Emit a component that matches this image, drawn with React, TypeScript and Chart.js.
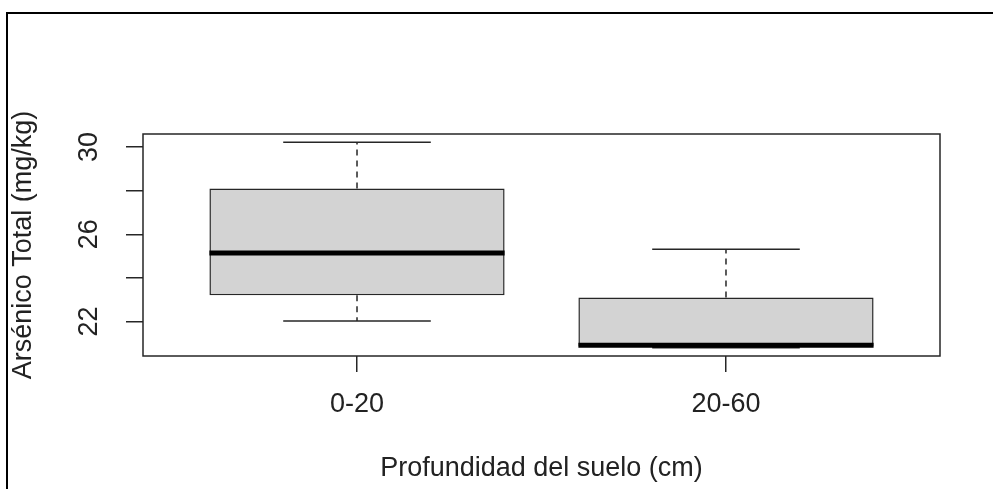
import React, { useEffect, useRef } from 'react';
import { Chart, registerables } from 'chart.js';

Chart.register(...registerables);

// ---- data ----
const categories = ['0-20', '20-60'];
const whiskerLow = [22.03, 20.8];
const quartile1 = [23.21, 20.86];
const medians = [25.14, 20.92];
const quartile3 = [28.1, 23.1];
const whiskerHigh = [30.22, 25.31];
const yTickValues = [22, 24, 26, 28, 30];
const yTickLabels = ['22', '', '26', '', '30'];
const xTitle = 'Profundidad del suelo (cm)';
const yTitle = 'Arsénico Total (mg/kg)';

const FONT = 'Liberation Sans, Arial, Helvetica, sans-serif';
const TEXT = '#222';
const LINE = '#262626';

// R-style axis limits (4% extension)
const dataLo = Math.min(...whiskerLow);
const dataHi = Math.max(...whiskerHigh);
const yExt = 0.04 * (dataHi - dataLo);
const xExt = 0.04 * categories.length;

const boxExtras = {
  id: 'boxExtras',
  beforeDraw(chart: any) {
    const ctx = chart.ctx;
    ctx.save();
    ctx.strokeStyle = '#000';
    ctx.lineWidth = 2;
    ctx.beginPath();
    ctx.moveTo(7, chart.height);
    ctx.lineTo(7, 13);
    ctx.lineTo(chart.width, 13);
    ctx.stroke();
    ctx.restore();
  },
  afterDatasetsDraw(chart: any) {
    const { ctx, scales } = chart;
    const x = scales.x;
    const y = scales.y;
    const seg = (x1: number, y1: number, x2: number, y2: number) => {
      ctx.beginPath();
      ctx.moveTo(x1, y1);
      ctx.lineTo(x2, y2);
      ctx.stroke();
    };
    ctx.save();
    categories.forEach((_, i) => {
      const c = i + 1;
      const xc = x.getPixelForValue(c);
      const xl = x.getPixelForValue(c - 0.4);
      const xr = x.getPixelForValue(c + 0.4);
      const sl = x.getPixelForValue(c - 0.2);
      const sr = x.getPixelForValue(c + 0.2);
      const yMin = y.getPixelForValue(whiskerLow[i]);
      const yQ1 = y.getPixelForValue(quartile1[i]);
      const yMed = y.getPixelForValue(medians[i]);
      const yQ3 = y.getPixelForValue(quartile3[i]);
      const yMax = y.getPixelForValue(whiskerHigh[i]);
      ctx.strokeStyle = LINE;
      ctx.lineWidth = 1.5;
      ctx.setLineDash([6, 5]);
      seg(xc, yQ3, xc, yMax);
      seg(xc, yQ1, xc, yMin);
      ctx.setLineDash([]);
      seg(sl, yMax, sr, yMax);
      seg(sl, yMin, sr, yMin);
      ctx.strokeStyle = '#000';
      ctx.lineWidth = 5;
      ctx.lineCap = 'butt';
      seg(xl, yMed, xr, yMed);
    });
    const a = chart.chartArea;
    ctx.strokeStyle = LINE;
    ctx.lineWidth = 1.5;
    ctx.strokeRect(a.left, a.top, a.right - a.left, a.bottom - a.top);
    ctx.restore();
  },
};

export default function App() {
  const ref = useRef<HTMLCanvasElement>(null);

  useEffect(() => {
    if (!ref.current) return;
    const chart = new Chart(ref.current, {
      type: 'bar',
      data: {
        datasets: [
          {
            data: categories.map((_, i) => ({ x: i + 1, y: [quartile1[i], quartile3[i]] })) as any,
            backgroundColor: '#d3d3d3',
            borderColor: LINE,
            borderWidth: 1.5,
            borderSkipped: false,
            barPercentage: 0.8,
            categoryPercentage: 1,
          },
        ],
      },
      options: {
        responsive: false,
        animation: false,
        layout: { padding: { top: 134, right: 53, left: 0, bottom: 0 } },
        plugins: {
          legend: { display: false },
          tooltip: { enabled: false },
          title: { display: false },
        },
        scales: {
          x: {
            type: 'linear',
            min: 0.5 - xExt,
            max: categories.length + 0.5 + xExt,
            offset: false,
            afterBuildTicks: (s: any) => {
              s.ticks = categories.map((_, i) => ({ value: i + 1 }));
            },
            afterFit: (s: any) => {
              s.height = 133;
            },
            ticks: {
              callback: (v: any) => categories[Math.round(Number(v)) - 1] ?? '',
              color: TEXT,
              font: { family: FONT, size: 27 },
              padding: 16,
              maxRotation: 0,
              minRotation: 0,
              autoSkip: false,
            },
            grid: {
              drawOnChartArea: false,
              drawTicks: true,
              tickLength: 16,
              color: LINE,
              lineWidth: 1.5,
              offset: false,
            },
            border: { display: false },
            title: {
              display: true,
              text: xTitle,
              color: TEXT,
              font: { family: FONT, size: 27 },
              padding: { top: 0, bottom: 4 },
            },
          },
          y: {
            type: 'linear',
            min: dataLo - yExt,
            max: dataHi + yExt,
            beginAtZero: false,
            afterBuildTicks: (s: any) => {
              s.ticks = yTickValues.map((v) => ({ value: v }));
            },
            afterFit: (s: any) => {
              s.width = 143;
            },
            ticks: {
              callback: (v: any, i: number) => yTickLabels[i] ?? '',
              color: TEXT,
              font: { family: FONT, size: 27 },
              padding: 21,
              minRotation: 90,
              maxRotation: 90,
              crossAlign: 'center',
              autoSkip: false,
            },
            grid: {
              drawOnChartArea: false,
              drawTicks: true,
              tickLength: 17,
              color: LINE,
              lineWidth: 1.5,
            },
            border: { display: false },
            title: {
              display: true,
              text: yTitle,
              color: TEXT,
              font: { family: FONT, size: 27 },
              padding: { top: 7, bottom: 0 },
            },
          },
        },
      } as any,
      plugins: [boxExtras],
    });
    return () => chart.destroy();
  }, []);

  return (
    <div style={{ position: 'absolute', left: 0, top: 0, width: 993, height: 489, background: '#fff' }}>
      <canvas ref={ref} width={993} height={489} style={{ display: 'block' }} />
    </div>
  );
}
